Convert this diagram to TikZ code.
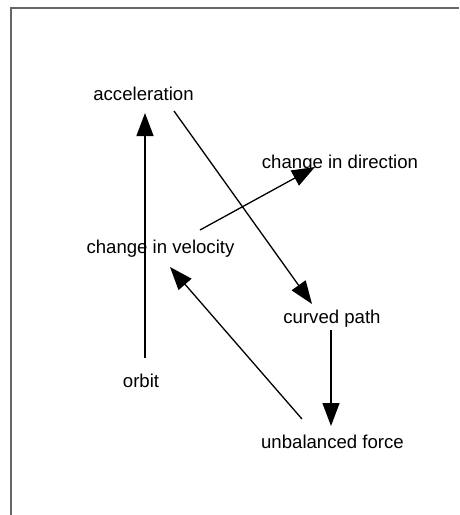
\documentclass[tikz,border=0pt]{standalone}
\usepackage{fontspec}
\setmainfont{Liberation Sans}
\usetikzlibrary{arrows.meta}
\begin{document}
\begin{tikzpicture}[x=1pt,y=-1pt,
  concept/.style={anchor=base,inner sep=0pt,font=\fontsize{18.6}{22}\selectfont},
  link/.style={line width=1.3pt,-{Triangle[length=23pt,width=17pt]}},
  frame/.style={line width=1.4pt,draw=black!60}]
  \useasboundingbox (0,0) rectangle (459,515);
  % page frame (top and left edges)
  \draw[frame] (11,515) -- (11,8) -- (459,8);
  % concepts
  \node[concept] (acc) at (143.5,100) {acceleration};
  \node[concept] (dir) at (340,168) {change in direction};
  \node[concept] (vel) at (160.5,253) {change in velocity};
  \node[concept] (path) at (332,323) {curved path};
  \node[concept] (orbit) at (141,387) {orbit};
  \node[concept] (force) at (332.5,448) {unbalanced force};
  % links
  \draw[link] ([shift={(4,-29)}]orbit.base) -- ([shift={(1.5,13)}]acc.base);
  \draw[link] ([shift={(30.5,11)}]acc.base) -- ([shift={(-20,-19)}]path.base);
  \draw[link] ([shift={(39.5,-23)}]vel.base) -- ([shift={(-25,-1)}]dir.base);
  \draw[link] ([shift={(-1,7)}]path.base) -- ([shift={(-1.5,-22)}]force.base);
  \draw[link] ([shift={(-30.5,-29)}]force.base) -- ([shift={(9.5,14)}]vel.base);
\end{tikzpicture}
\end{document}
